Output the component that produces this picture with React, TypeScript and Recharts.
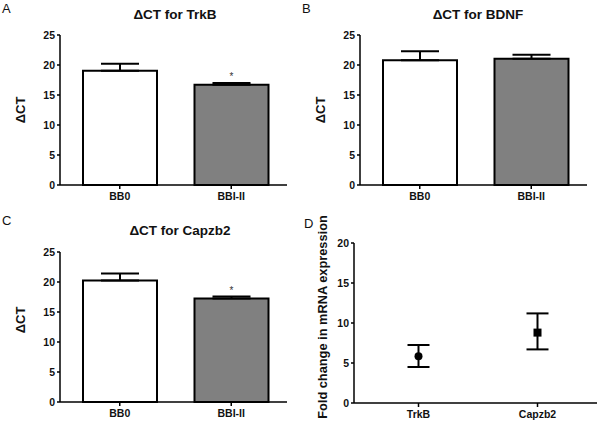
import React from 'react';
import { BarChart, Bar, XAxis, YAxis, ErrorBar, LabelList, Cell, ScatterChart, Scatter } from 'recharts';

const groups = ['BB0', 'BBI-II'];
const trkbMeans = [19.05, 16.7];
const trkbErr = [1.15, 0.3];
const bdnfMeans = [20.8, 21.05];
const bdnfErr = [1.5, 0.65];
const capzMeans = [20.25, 17.25];
const capzErr = [1.15, 0.35];
const sigA = ['', '*'];
const sigB = ['', ''];
const sigC = ['', '*'];
const barFills = ['#ffffff', '#808080'];
const ctTicks = [0, 5, 10, 15, 20, 25];

const foldGenes = ['TrkB', 'Capzb2'];
const foldMeans = [5.85, 8.8];
const foldLow = [1.35, 2.1];
const foldHigh = [1.4, 2.4];
const foldShapes = ['circle', 'square'];
const foldTicks = [0, 5, 10, 15, 20];

const FONT = '"Liberation Sans", Arial, sans-serif';
const axisLine = { stroke: '#000', strokeWidth: 1.5 };
const tickStyle = { fill: '#111', fontSize: 10.5, fontWeight: 'bold', fontFamily: FONT };

const buildBars = (means: number[], errs: number[], sig: string[]) =>
  groups.map((g, i) => ({ group: g, mean: means[i], err: [0, errs[i]], sig: sig[i] }));

const foldData = foldGenes.map((g, i) => ({
  gene: g,
  mean: foldMeans[i],
  err: [foldLow[i], foldHigh[i]],
  shape: foldShapes[i],
}));

const renderMarker = (props: any) => {
  const { cx, cy, payload } = props;
  if (payload && payload.shape === 'square') {
    return <rect x={cx - 4} y={cy - 4} width={8} height={8} fill="#000" />;
  }
  return <circle cx={cx} cy={cy} r={4} fill="#000" />;
};

function BarPanel({ data, top, height }: { data: any[]; top: number; height: number }) {
  return (
    <BarChart width={300} height={height} data={data} margin={{ top, right: 13, bottom: 0, left: 0 }}>
      <XAxis
        dataKey="group"
        height={25}
        padding={{ left: 4, right: 0 }}
        axisLine={axisLine}
        tickLine={axisLine}
        tickSize={4}
        tickMargin={4}
        tick={tickStyle}
      />
      <YAxis
        type="number"
        domain={[0, 25]}
        ticks={ctTicks}
        width={60}
        axisLine={axisLine}
        tickLine={axisLine}
        tickSize={3}
        tickMargin={2}
        tick={tickStyle}
      />
      <Bar dataKey="mean" barSize={74} stroke="#000" strokeWidth={2} isAnimationActive={false}>
        {data.map((d, i) => (
          <Cell key={d.group} fill={barFills[i]} />
        ))}
        <ErrorBar dataKey="err" direction="y" width={19} stroke="#000" strokeWidth={2} />
        <LabelList dataKey="sig" position="top" offset={5} style={{ fontSize: 10, fill: '#333', fontFamily: FONT }} />
      </Bar>
    </BarChart>
  );
}

const abs = (left: number, top: number): React.CSSProperties => ({ position: 'absolute', left, top });

function Title({ text, cx, cy }: { text: string; cx: number; cy: number }) {
  return (
    <div
      style={{
        position: 'absolute',
        left: cx,
        top: cy,
        transform: 'translate(-50%, -50%)',
        whiteSpace: 'nowrap',
        fontSize: 13.5,
        fontWeight: 'bold',
        color: '#111',
        fontFamily: FONT,
      }}
    >
      {text}
    </div>
  );
}

function VLabel({ text, cx, cy, size }: { text: string; cx: number; cy: number; size: number }) {
  return (
    <div
      style={{
        position: 'absolute',
        left: cx,
        top: cy,
        transform: 'translate(-50%, -50%) rotate(-90deg)',
        whiteSpace: 'nowrap',
        fontSize: size,
        fontWeight: 'bold',
        color: '#111',
        fontFamily: FONT,
        lineHeight: 1,
      }}
    >
      {text}
    </div>
  );
}

function Letter({ text, x, y }: { text: string; x: number; y: number }) {
  return (
    <div style={{ position: 'absolute', left: x, top: y, fontSize: 13, color: '#111', fontFamily: FONT, lineHeight: 1 }}>
      {text}
    </div>
  );
}

export default function App() {
  return (
    <div style={{ position: 'absolute', left: 0, top: 0, width: 600, height: 427, background: '#fff', overflow: 'hidden' }}>
      <div style={abs(0, 0)}>
        <BarPanel data={buildBars(trkbMeans, trkbErr, sigA)} top={35} height={210} />
      </div>
      <div style={abs(300, 0)}>
        <BarPanel data={buildBars(bdnfMeans, bdnfErr, sigB)} top={35} height={210} />
      </div>
      <div style={abs(0, 210)}>
        <BarPanel data={buildBars(capzMeans, capzErr, sigC)} top={42} height={217} />
      </div>
      <div style={abs(300, 210)}>
        <ScatterChart width={300} height={217} margin={{ top: 33, right: 3, bottom: 0, left: 0 }}>
          <XAxis
            dataKey="gene"
            type="category"
            allowDuplicatedCategory={false}
            height={24}
            padding={{ left: 5, right: 0 }}
            axisLine={axisLine}
            tickLine={axisLine}
            tickSize={4}
            tickMargin={4}
            tick={tickStyle}
          />
          <YAxis
            dataKey="mean"
            type="number"
            domain={[0, 20]}
            ticks={foldTicks}
            width={54}
            axisLine={axisLine}
            tickLine={axisLine}
            tickSize={3}
            tickMargin={2}
            tick={tickStyle}
          />
          <Scatter data={foldData} dataKey="mean" shape={renderMarker} isAnimationActive={false}>
            <ErrorBar dataKey="err" direction="y" width={11} stroke="#000" strokeWidth={2} />
          </Scatter>
        </ScatterChart>
      </div>

      <Letter text="A" x={2} y={2} />
      <Letter text="B" x={302} y={2} />
      <Letter text="C" x={2} y={214} />
      <Letter text="D" x={304} y={217} />

      <Title text="ΔCT for TrkB" cx={175} cy={14} />
      <Title text="ΔCT for BDNF" cx={478} cy={14} />
      <Title text="ΔCT for Capzb2" cx={180} cy={230} />

      <VLabel text="ΔCT" cx={20} cy={110} size={13} />
      <VLabel text="ΔCT" cx={320} cy={110} size={13} />
      <VLabel text="ΔCT" cx={20} cy={320} size={13} />
      <VLabel text="Fold change in mRNA expression" cx={323} cy={317} size={12.8} />
    </div>
  );
}
